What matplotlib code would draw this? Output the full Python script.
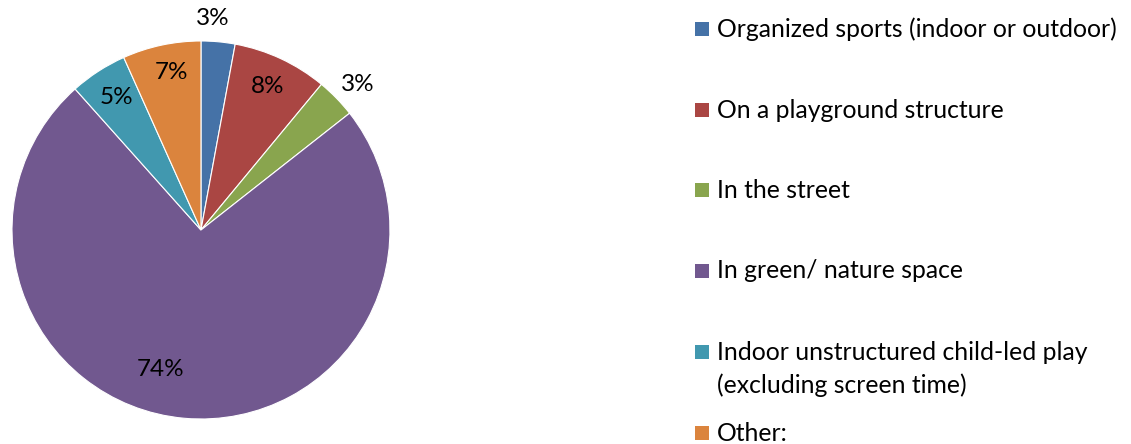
import numpy as np
import matplotlib
matplotlib.use("Agg")
import matplotlib.pyplot as plt
from matplotlib.patches import Rectangle

categories = [
    "Organized sports (indoor or outdoor)",
    "On a playground structure",
    "In the street",
    "In green/ nature space",
    "Indoor unstructured child-led play\n(excluding screen time)",
    "Other:",
]
values = [2.9, 8.1, 3.4, 74.0, 4.9, 6.7]
pct_labels = ["3%", "8%", "3%", "74%", "5%", "7%"]
colors = ["#4572A7", "#AA4643", "#89A54E", "#71588F", "#4198AF", "#DB843D"]

plt.rcParams['font.family'] = ['Lato', 'DejaVu Sans']

fig = plt.figure(figsize=(11.31, 4.44), dpi=100)
ax = fig.add_axes([0.0106, 0.0563, 0.3342, 0.8514])
wedges, _ = ax.pie(values, colors=colors, startangle=90, counterclock=False,
                   radius=1.0, wedgeprops=dict(edgecolor="white", linewidth=0.8))
ax.set_xlim(-1, 1)
ax.set_ylim(-1, 1)
ax.set_aspect("auto")
ax.axis("off")

label_r = [1.12, 0.84, 1.13, 0.77, 0.83, 0.85]
angle_shift = [2.0, 0, -1.5, -11, -0.5, -1.5]
for w, lab, r, sh in zip(wedges, pct_labels, label_r, angle_shift):
    ang = np.deg2rad((w.theta1 + w.theta2) / 2 + sh)
    ax.text(r * np.cos(ang), r * np.sin(ang), lab, ha="center", va="center",
            fontsize=17.5, color="black")

# legend
row_y = [29, 110, 190, 271, 352, 433]
line_gap = 33
for cat, col, y in zip(categories, colors, row_y):
    fy = 1 - y / 444
    fig.patches.append(Rectangle((695 / 1131, fy - 7 / 444), 14 / 1131, 14 / 444,
                                 transform=fig.transFigure, facecolor=col,
                                 edgecolor="none"))
    for i, line in enumerate(cat.split("\n")):
        fig.text(717 / 1131, 1 - (y + i * line_gap) / 444, line, ha="left",
                 va="center", fontsize=17.8, transform=fig.transFigure)

fig.savefig("out.png", dpi=100, facecolor="white")
